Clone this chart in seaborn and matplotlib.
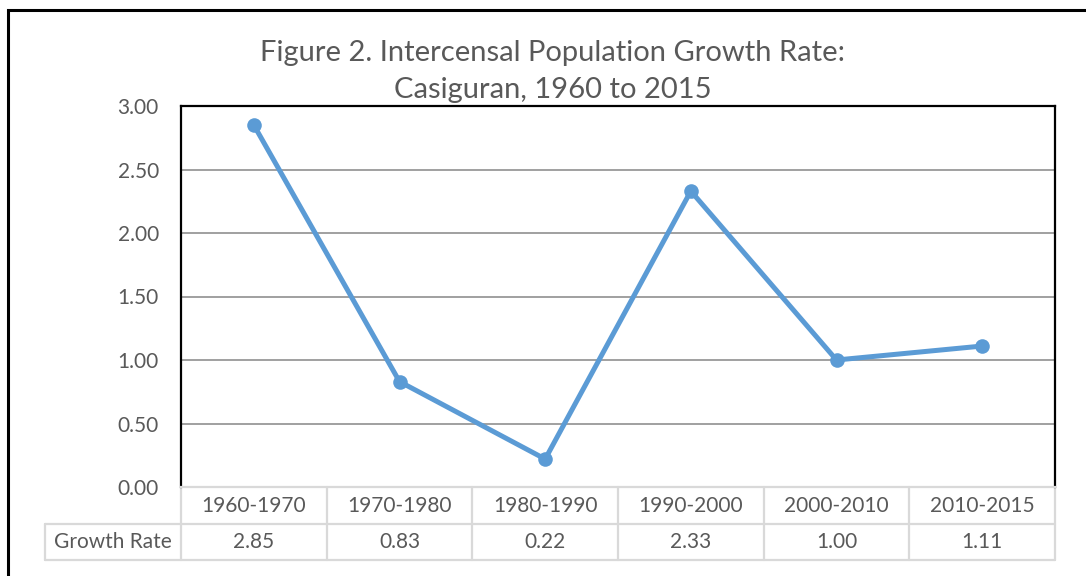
import numpy as np
import pandas as pd
import seaborn as sns
import matplotlib.pyplot as plt
from matplotlib.patches import Rectangle
from matplotlib.transforms import blended_transform_factory

# 数据
periods = ["1960-1970", "1970-1980", "1980-1990", "1990-2000", "2000-2010", "2010-2015"]
rates = [2.85, 0.83, 0.22, 2.33, 1.00, 1.11]
series_name = "Growth Rate"
title_lines = ["Figure 2. Intercensal Population Growth Rate:", "Casiguran, 1960 to 2015"]

df = pd.DataFrame({"period": periods, "rate": rates})

sns.set_style("white")
plt.rcParams['font.family'] = ['Lato', 'DejaVu Sans']

text_col = "#595959"
table_col = "#D9D9D9"

fig = plt.figure(figsize=(10.86, 5.76), dpi=100)
ax = fig.add_axes([181 / 1086, 1 - 487 / 576, 874 / 1086, 381 / 576])

sns.lineplot(data=df, x="period", y="rate", sort=False, ax=ax, color="#5B9BD5",
             linewidth=3.6, marker="o", markersize=10.5, markeredgewidth=0)

ax.set_xlim(-0.5, len(periods) - 0.5)
ax.set_ylim(0, 3)
ax.set_yticks(np.arange(0, 3.01, 0.5))
ax.set_yticklabels([f"{v:.2f}" for v in np.arange(0, 3.01, 0.5)])
ax.tick_params(axis="y", length=0, pad=16, labelsize=15, labelcolor=text_col)
ax.tick_params(axis="x", length=0, labelbottom=False)
ax.set_xlabel("")
ax.set_ylabel("")
ax.yaxis.grid(True, color="#868686", linewidth=1.1)
ax.set_axisbelow(True)
for side in ["left", "top", "right"]:
    ax.spines[side].set_color("black")
    ax.spines[side].set_linewidth(1.6)
ax.spines["bottom"].set_color(table_col)
ax.spines["bottom"].set_linewidth(1.6)

# 数据表
tr = blended_transform_factory(ax.transData, ax.transAxes)
h1 = -37 / 381
h2 = -73 / 381
label_left = (45 - 181) / 874
ax.plot([0, 0], [0, h2], transform=ax.transAxes, color=table_col, lw=1.6, clip_on=False)
ax.plot([1, 1], [0, h2], transform=ax.transAxes, color=table_col, lw=1.6, clip_on=False)
ax.plot([label_left, label_left], [h1, h2], transform=ax.transAxes, color=table_col, lw=1.6, clip_on=False)
for yy in [h1, h2]:
    ax.plot([label_left, 1], [yy, yy], transform=ax.transAxes, color=table_col, lw=1.6, clip_on=False)
for i in range(1, len(periods)):
    ax.plot([i - 0.5, i - 0.5], [0, h2], transform=tr, color=table_col, lw=1.6, clip_on=False)
for i, (p, r) in enumerate(zip(periods, rates)):
    ax.text(i, h1 / 2, p, transform=tr, ha="center", va="center", fontsize=15, color=text_col)
    ax.text(i, (h1 + h2) / 2, f"{r:.2f}", transform=tr, ha="center", va="center", fontsize=15, color=text_col)
ax.text(label_left / 2, (h1 + h2) / 2, series_name, transform=ax.transAxes, ha="center", va="center",
        fontsize=15, color=text_col)

# 标题
fig.text(553 / 1086, 1 - 53 / 576, title_lines[0], ha="center", va="center", fontsize=21, color=text_col)
fig.text(553 / 1086, 1 - 90 / 576, title_lines[1], ha="center", va="center", fontsize=21, color=text_col)

# 外框
fig.add_artist(Rectangle((8 / 1086, -0.1), 1.2, 1.1 - 10 / 576, transform=fig.transFigure,
                         fill=False, edgecolor="black", linewidth=2.2))

fig.savefig("out.png", dpi=100)
